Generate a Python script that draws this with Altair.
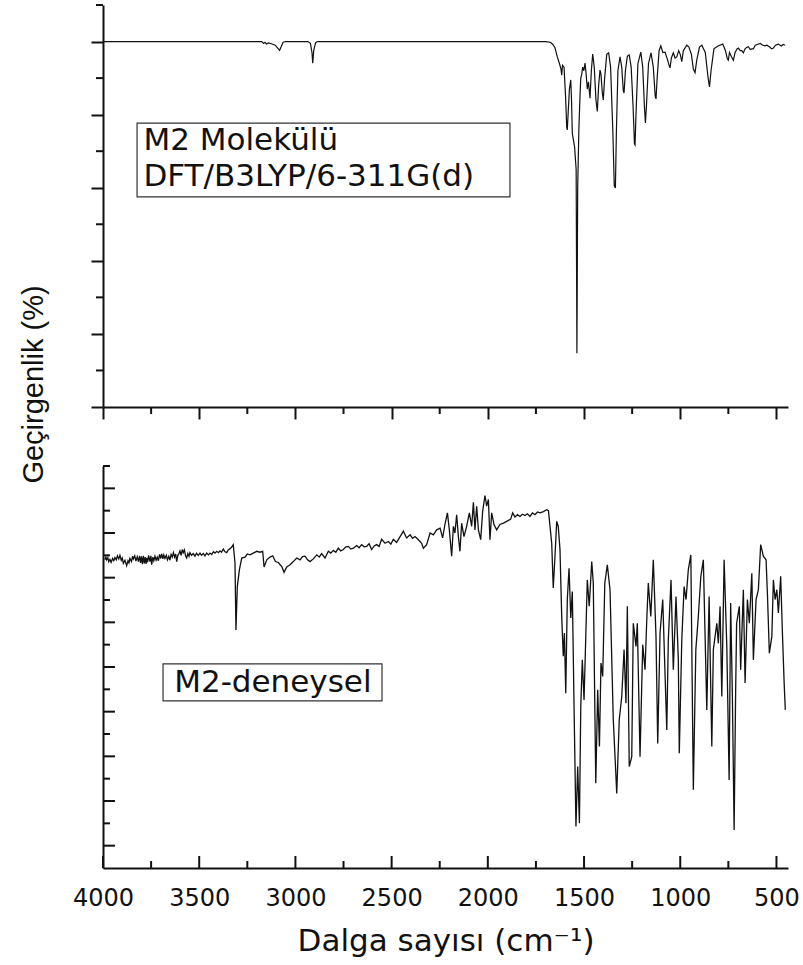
import altair as alt
import pandas as pd

# ---------------- data ----------------
# DFT (calculated) spectrum: (wavenumber cm-1, transmittance %)
dft_points = [
    (4000, 100), (3175, 100), (3165, 99.5), (3158, 99.8), (3150, 99.3), (3140, 99.6),
    (3125, 99.4), (3105, 99.0), (3092, 98.2), (3082, 97.6), (3074, 98.6), (3064, 99.8),
    (3050, 100), (2935, 100), (2922, 99.5), (2914, 97.0), (2910, 94.1), (2905, 97.5),
    (2895, 99.7), (2885, 100), (1700, 100), (1675, 99.8), (1662, 99.2), (1651, 98.3),
    (1640, 96.0), (1628, 94.0), (1620, 92.5), (1616, 90.8), (1612, 93.5), (1604, 93.0),
    (1596, 85.0), (1590, 76.5), (1587, 75.8), (1583, 80.0), (1576, 87.0), (1569, 89.5),
    (1565, 84.0), (1561, 74.9), (1555, 73.0), (1549, 71.1), (1541, 65.0), (1537, 14.7),
    (1533, 60.0), (1527, 75.8), (1521, 85.0), (1517, 90.0), (1512, 91.0), (1507, 93.0),
    (1501, 92.0), (1495, 94.1), (1490, 91.6), (1483, 87.0), (1477, 89.0), (1469, 84.5),
    (1462, 92.0), (1455, 96.6), (1447, 93.0), (1438, 84.0), (1431, 80.9), (1424, 88.0),
    (1417, 92.2), (1412, 91.0), (1405, 86.0), (1400, 84.0), (1393, 90.0), (1382, 96.5),
    (1372, 96.9), (1362, 93.0), (1350, 75.0), (1343, 60.5), (1337, 59.9), (1332, 75.0),
    (1324, 92.0), (1313, 95.8), (1304, 93.0), (1296, 86.5), (1292, 85.9), (1285, 92.0),
    (1275, 96.0), (1265, 96.3), (1255, 93.0), (1245, 82.0), (1238, 72.0), (1235, 71.7),
    (1230, 80.0), (1220, 94.0), (1205, 97.1), (1195, 93.0), (1186, 82.0), (1181, 77.7),
    (1176, 82.0), (1165, 94.0), (1152, 96.9), (1140, 93.0), (1130, 85.0), (1126, 84.3),
    (1120, 90.0), (1110, 97.5), (1101, 98.8), (1090, 97.0), (1079, 97.1), (1066, 95.0),
    (1058, 93.5), (1053, 92.8), (1046, 95.5), (1036, 96.9), (1027, 95.5), (1018, 95.8),
    (1008, 97.5), (1000, 96.5), (992, 94.5), (984, 97.5), (966, 99.0), (955, 98.5),
    (942, 96.5), (932, 92.5), (923, 91.5), (914, 95.0), (900, 98.5), (888, 99.0),
    (870, 97.0), (855, 90.0), (848, 87.6), (840, 92.0), (825, 98.0), (810, 98.6),
    (795, 99.0), (779, 99.3), (765, 97.5), (755, 95.2), (750, 94.9), (744, 97.0),
    (735, 96.0), (724, 94.9), (715, 97.0), (705, 98.0), (698, 98.2), (688, 97.5),
    (680, 97.5), (672, 96.9), (663, 98.0), (655, 98.4), (646, 98.6), (636, 97.8),
    (628, 98.0), (620, 98.0), (610, 99.0), (600, 99.2), (585, 99.5), (570, 99.0),
    (560, 98.8), (550, 99.0), (535, 98.5), (525, 98.0), (516, 98.2), (505, 99.0),
    (490, 99.3), (475, 98.8), (465, 99.2), (455, 99.0)]

# Experimental spectrum: (wavenumber cm-1, transmittance %)
exp_points = [
    (3990, 64.0), (3985, 64.6), (3981, 64.0), (3975, 64.5), (3970, 63.6), (3964, 64.1),
    (3958, 63.4), (3950, 64.3), (3944, 63.8), (3938, 64.5), (3931, 64.0), (3925, 64.9),
    (3918, 64.2), (3912, 65.0), (3905, 63.9), (3900, 64.4), (3894, 63.2), (3886, 63.9),
    (3877, 62.7), (3870, 63.8), (3865, 63.3), (3860, 64.3), (3852, 63.6), (3846, 64.8),
    (3842, 64.2), (3835, 64.9), (3829, 63.7), (3822, 64.7), (3816, 63.6), (3810, 64.9),
    (3805, 63.3), (3800, 64.8), (3795, 63.0), (3790, 64.9), (3785, 63.2), (3780, 64.6),
    (3776, 63.1), (3773, 64.4), (3768, 63.5), (3763, 65.0), (3756, 63.6), (3751, 64.9),
    (3747, 62.9), (3741, 64.6), (3736, 63.8), (3730, 64.8), (3724, 63.9), (3718, 64.6),
    (3712, 63.8), (3706, 65.2), (3700, 64.3), (3695, 65.3), (3689, 64.2), (3684, 65.1),
    (3678, 64.3), (3671, 65.0), (3665, 64.0), (3658, 64.8), (3652, 63.9), (3646, 65.2),
    (3640, 64.6), (3634, 65.6), (3628, 64.6), (3622, 65.3), (3617, 63.6), (3611, 65.0),
    (3605, 65.4), (3600, 66.0), (3594, 65.0), (3588, 66.3), (3583, 65.6), (3577, 66.2),
    (3571, 64.9), (3565, 64.4), (3559, 65.4), (3553, 64.8), (3548, 65.6), (3540, 65.0),
    (3531, 65.4), (3522, 64.8), (3514, 65.5), (3505, 65.0), (3496, 65.5), (3488, 65.0),
    (3479, 65.4), (3470, 64.9), (3461, 65.5), (3452, 65.1), (3444, 65.5), (3435, 65.2),
    (3426, 65.8), (3418, 65.5), (3409, 65.9), (3400, 65.6), (3392, 66.0), (3384, 65.7),
    (3375, 66.4), (3366, 65.8), (3357, 65.6), (3349, 66.2), (3340, 66.5), (3332, 66.8),
    (3323, 67.4), (3314, 63.3), (3309, 48.3), (3302, 58.0), (3291, 61.8), (3279, 64.4),
    (3262, 64.6), (3250, 65.3), (3236, 65.1), (3219, 65.5), (3201, 65.9), (3184, 65.7),
    (3170, 65.9), (3163, 62.4), (3149, 64.0), (3132, 64.6), (3118, 64.9), (3104, 63.6),
    (3089, 63.4), (3071, 62.5), (3059, 61.2), (3045, 62.4), (3028, 62.9), (3011, 63.6),
    (2993, 64.4), (2976, 64.0), (2963, 64.7), (2950, 64.8), (2937, 64.0), (2924, 63.6),
    (2907, 64.2), (2889, 65.1), (2876, 64.6), (2864, 65.4), (2846, 64.4), (2829, 65.9),
    (2816, 65.5), (2803, 66.1), (2790, 65.7), (2777, 66.6), (2764, 66.0), (2751, 66.3),
    (2738, 66.9), (2725, 67.0), (2712, 66.4), (2699, 66.6), (2682, 67.2), (2669, 66.7),
    (2656, 67.4), (2643, 66.9), (2630, 67.0), (2617, 67.6), (2604, 66.3), (2591, 67.1),
    (2578, 67.4), (2565, 67.0), (2552, 68.6), (2534, 67.7), (2517, 68.1), (2504, 67.5),
    (2491, 68.6), (2474, 67.9), (2456, 69.2), (2439, 70.4), (2422, 68.9), (2404, 69.6),
    (2391, 68.8), (2378, 69.2), (2361, 68.5), (2344, 67.7), (2335, 66.6), (2318, 67.4),
    (2300, 70.0), (2283, 69.6), (2266, 70.7), (2248, 71.1), (2235, 68.9), (2223, 71.9),
    (2210, 74.5), (2200, 70.7), (2188, 64.8), (2179, 71.5), (2171, 70.0), (2162, 74.1),
    (2153, 69.2), (2145, 65.9), (2136, 72.2), (2124, 69.2), (2110, 71.5), (2096, 74.5),
    (2084, 71.5), (2075, 76.9), (2067, 70.7), (2058, 76.0), (2049, 70.7), (2037, 68.5),
    (2027, 74.8), (2015, 78.4), (2006, 76.0), (1997, 77.5), (1989, 68.5), (1980, 74.5),
    (1968, 71.9), (1954, 70.7), (1937, 71.9), (1919, 72.2), (1902, 72.6), (1881, 73.1),
    (1871, 74.5), (1859, 73.6), (1846, 74.1), (1833, 73.7), (1820, 74.2), (1807, 73.9),
    (1794, 74.3), (1781, 73.7), (1768, 74.5), (1755, 74.1), (1742, 74.7), (1729, 74.5),
    (1711, 74.8), (1694, 75.2), (1685, 75.0), (1668, 67.7), (1660, 57.7), (1651, 64.8),
    (1642, 72.6), (1634, 71.5), (1625, 66.3), (1616, 51.3), (1608, 42.4), (1602, 47.6),
    (1595, 34.1), (1587, 55.1), (1578, 62.1), (1569, 51.0), (1561, 56.9), (1550, 25.9),
    (1542, 4.3), (1533, 17.7), (1524, 5.0), (1517, 31.1), (1509, 41.6), (1500, 32.6),
    (1490, 48.3), (1483, 59.5), (1473, 53.6), (1460, 63.6), (1452, 58.8), (1439, 14.0),
    (1429, 34.9), (1420, 22.2), (1412, 40.9), (1403, 37.9), (1392, 58.8), (1379, 62.9),
    (1365, 57.3), (1348, 28.2), (1330, 11.7), (1317, 28.2), (1304, 33.4), (1292, 43.9),
    (1282, 31.9), (1275, 53.6), (1265, 17.7), (1252, 19.9), (1244, 49.8), (1230, 44.6),
    (1223, 49.8), (1209, 19.9), (1195, 45.0), (1183, 39.4), (1174, 50.6), (1166, 58.8),
    (1153, 51.3), (1140, 64.0), (1126, 46.8), (1117, 22.9), (1105, 47.6), (1091, 55.1),
    (1070, 25.9), (1062, 46.1), (1048, 59.5), (1036, 39.4), (1022, 55.8), (1010, 41.6),
    (1005, 20.7), (992, 46.1), (980, 58.0), (970, 55.1), (958, 61.8), (945, 65.1),
    (932, 12.5), (919, 43.9), (906, 51.3), (893, 60.3), (880, 64.0), (862, 30.4),
    (850, 55.8), (836, 22.2), (828, 43.9), (810, 49.8), (802, 45.3), (793, 53.6),
    (784, 33.4), (772, 64.0), (758, 44.6), (746, 14.7), (738, 54.3), (729, 33.4),
    (720, 3.5), (712, 34.9), (707, 49.8), (693, 53.6), (686, 39.4), (672, 57.3),
    (663, 36.4), (651, 55.1), (641, 49.8), (628, 61.0), (620, 41.6), (606, 55.1),
    (594, 57.3), (582, 67.4), (568, 64.8), (554, 64.0), (547, 56.5), (537, 43.1),
    (524, 46.8), (516, 59.5), (507, 55.1), (498, 57.3), (490, 52.1), (478, 60.3),
    (469, 47.6), (460, 36.4), (454, 30.4)]

# Axis tick values
x_major_ticks = [4000, 3500, 3000, 2500, 2000, 1500, 1000, 500]
x_minor_ticks = [3750, 3250, 2750, 2250, 1750, 1250, 750]
top_major_ticks = [0, 20, 40, 60, 80, 100]
top_minor_ticks = [10, 30, 50, 70, 90, 110]
bottom_major_ticks = [0, 10, 20, 30, 40, 50, 60, 70, 80]
bottom_minor_ticks = [5, 15, 25, 35, 45, 55, 65, 75, 85]

# Annotation texts and their anchor positions (data units)
top_label_lines = ["M2 Molekülü", "DFT/B3LYP/6-311G(d)"]
top_label_w = [3790, 3790]
top_label_t = [70.3, 60.5]
top_box_w = [3823, 1885]
top_box_t = [77.7, 57.5]
bottom_label_lines = ["M2-deneysel"]
bottom_label_w = [3630]
bottom_label_t = [34.5]
bottom_box_w = [3688, 2550]
bottom_box_t = [40.7, 32.4]

# ---------------- chart ----------------
W, H = 685, 402
FONT = "DejaVu Sans"
INK = "#111111"

xs = alt.Scale(domain=[440, 4000], reverse=True, nice=False, zero=False)
ys_top = alt.Scale(domain=[0, 110], nice=False, zero=False)
ys_bot = alt.Scale(domain=[-5, 85], nice=False, zero=False)

# identical axis definitions are reused by every layer so the layers merge cleanly
xa_top = alt.Axis(values=x_major_ticks, labels=False, title=None, grid=False,
                  tickSize=12, tickWidth=2, tickColor=INK, domainWidth=2, domainColor=INK)
ya_top = alt.Axis(values=top_major_ticks, labels=False, grid=False,
                  tickSize=12, tickWidth=2, tickColor=INK, domainWidth=2, domainColor=INK,
                  title="Geçirgenlik (%)",
                  titleFont="Liberation Sans, Arial, sans-serif",
                  titleFontSize=29, titleFontWeight="normal", titleColor=INK,
                  titleAngle=270, titleX=-70, titleY=379, titleAlign="center",
                  titleBaseline="middle")
xa_bot = alt.Axis(values=x_major_ticks, ticks=False, tickSize=0, grid=False, format="d",
                  domainWidth=2, domainColor=INK,
                  labelFont=FONT, labelFontSize=24, labelColor=INK, labelPadding=18,
                  labelFlush=False,
                  title="Dalga sayısı (cm⁻¹)", titleFont=FONT, titleFontSize=31,
                  titleFontWeight="normal", titleColor=INK, titlePadding=16)
ya_bot = alt.Axis(values=bottom_major_ticks, labels=False, ticks=False, tickSize=0, grid=False,
                  title=None, domainWidth=2, domainColor=INK)

dft = pd.DataFrame(dft_points, columns=["w", "t"])
exp = pd.DataFrame(exp_points, columns=["w", "t"])
xmaj = pd.DataFrame({"w": x_major_ticks})
xmin = pd.DataFrame({"w": x_minor_ticks})
tmin = pd.DataFrame({"t": top_minor_ticks})
bmaj = pd.DataFrame({"t": bottom_major_ticks})
bmin = pd.DataFrame({"t": bottom_minor_ticks})

# ---------- top panel ----------
top_line = alt.Chart(dft).mark_line(color=INK, strokeWidth=1.2).encode(
    x=alt.X("w:Q", scale=xs, axis=xa_top),
    y=alt.Y("t:Q", scale=ys_top, axis=ya_top),
)
top_xminor = alt.Chart(xmin).mark_rule(color=INK, strokeWidth=2).encode(
    x=alt.X("w:Q", scale=xs, axis=xa_top), y=alt.value(H), y2=alt.value(H + 7))
top_yminor = alt.Chart(tmin).mark_rule(color=INK, strokeWidth=2).encode(
    y=alt.Y("t:Q", scale=ys_top, axis=ya_top), x=alt.value(-7), x2=alt.value(0))

top_box = alt.Chart(pd.DataFrame({"w": [top_box_w[0]], "w2": [top_box_w[1]],
                                  "t": [top_box_t[0]], "t2": [top_box_t[1]]})).mark_rect(
    fill="white", stroke="#333333", strokeWidth=1.2).encode(
    x=alt.X("w:Q", scale=xs, axis=xa_top), x2="w2:Q",
    y=alt.Y("t:Q", scale=ys_top, axis=ya_top), y2="t2:Q")
top_text = alt.Chart(pd.DataFrame({"w": top_label_w, "t": top_label_t, "s": top_label_lines})).mark_text(
    align="left", baseline="alphabetic", font=FONT, fontSize=31, color=INK).encode(
    x=alt.X("w:Q", scale=xs, axis=xa_top), y=alt.Y("t:Q", scale=ys_top, axis=ya_top), text="s:N")

top = alt.layer(top_line, top_xminor, top_yminor, top_box, top_text).properties(width=W, height=H)

# ---------- bottom panel ----------
bot_line = alt.Chart(exp).mark_line(color=INK, strokeWidth=1.3).encode(
    x=alt.X("w:Q", scale=xs, axis=xa_bot),
    y=alt.Y("t:Q", scale=ys_bot, axis=ya_bot),
)
bot_xmaj = alt.Chart(xmaj).mark_rule(color=INK, strokeWidth=2).encode(
    x=alt.X("w:Q", scale=xs, axis=xa_bot), y=alt.value(H), y2=alt.value(H - 12))
bot_xmin = alt.Chart(xmin).mark_rule(color=INK, strokeWidth=2).encode(
    x=alt.X("w:Q", scale=xs, axis=xa_bot), y=alt.value(H), y2=alt.value(H - 7))
bot_ymaj = alt.Chart(bmaj).mark_rule(color=INK, strokeWidth=2).encode(
    y=alt.Y("t:Q", scale=ys_bot, axis=ya_bot), x=alt.value(0), x2=alt.value(12))
bot_ymin = alt.Chart(bmin).mark_rule(color=INK, strokeWidth=2).encode(
    y=alt.Y("t:Q", scale=ys_bot, axis=ya_bot), x=alt.value(0), x2=alt.value(7))

bot_box = alt.Chart(pd.DataFrame({"w": [bottom_box_w[0]], "w2": [bottom_box_w[1]],
                                  "t": [bottom_box_t[0]], "t2": [bottom_box_t[1]]})).mark_rect(
    fill="white", stroke="#333333", strokeWidth=1.2).encode(
    x=alt.X("w:Q", scale=xs, axis=xa_bot), x2="w2:Q",
    y=alt.Y("t:Q", scale=ys_bot, axis=ya_bot), y2="t2:Q")
bot_text = alt.Chart(pd.DataFrame({"w": bottom_label_w, "t": bottom_label_t, "s": bottom_label_lines})).mark_text(
    align="left", baseline="alphabetic", font=FONT, fontSize=31, color=INK).encode(
    x=alt.X("w:Q", scale=xs, axis=xa_bot), y=alt.Y("t:Q", scale=ys_bot, axis=ya_bot), text="s:N")

bottom = alt.layer(bot_line, bot_xmaj, bot_xmin, bot_ymaj, bot_ymin, bot_box, bot_text).properties(
    width=W, height=H)

chart = alt.vconcat(top, bottom, spacing=59, bounds="flush").properties(
    padding={"left": 19, "top": 4, "right": 2, "bottom": 2},
    background="white",
).configure_view(strokeWidth=0)

chart.save("out.html", embed_options={"renderer": "svg", "actions": False})
